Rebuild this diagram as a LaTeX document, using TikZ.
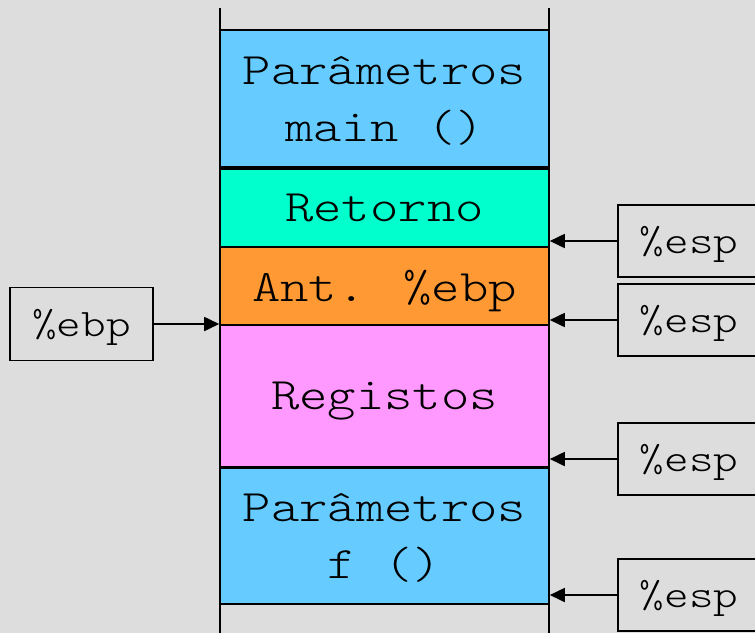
\documentclass[tikz,border=0pt]{standalone}
\usepackage{fontspec}
\newfontfamily\courfont{lmmonolt10-regular.otf}[FakeStretch=1.2]
\usetikzlibrary{arrows.meta}

\definecolor{bg}{HTML}{DDDDDD}
\definecolor{parblue}{HTML}{66CCFF}
\definecolor{retaqua}{HTML}{00FFCC}
\definecolor{ebporange}{HTML}{FF9933}
\definecolor{regpink}{HTML}{FF99FF}

\begin{document}
\begin{tikzpicture}[
  x=1pt, y=-1pt,
  s/.style={draw, line width=1.6pt, minimum width=329pt, inner sep=0pt, align=center,
    text depth=0pt, font=\courfont\fontsize{45}{57}\selectfont},
  r/.style={draw, line width=1.6pt, minimum width=142pt, minimum height=72pt, inner sep=0pt,
    text height=25pt, text depth=0pt, font=\courfont\fontsize{39}{47}\selectfont},
  arr/.style={-{Triangle[length=15pt,width=14pt]}, line width=1.8pt}]

\fill[bg] (0,0) rectangle (755,633);
\useasboundingbox (0,0) rectangle (755,633);

% stack walls
\draw[line width=1.6pt] (220,8) -- (220,633);
\draw[line width=1.6pt] (549,8) -- (549,633);

% stack frames
\node[s, fill=parblue, minimum height=137pt] (pmain) at (384.5,98.5) {Parâmetros\\main ()};
\node[s, fill=retaqua, minimum height=78pt] (ret) at (384.5,208) {Retorno};
\node[s, fill=ebporange, minimum height=78pt] (ant) at (384.5,286) {Ant. \%ebp};
\node[s, fill=regpink, minimum height=142pt] (reg) at (384.5,396) {Registos};
\node[s, fill=parblue, minimum height=136pt] (pf) at (384.5,536) {Parâmetros\\f ()};

% registers
\node[r, minimum width=143pt, minimum height=73pt] (ebp) at (81.5,324) {\%ebp};
\node[r] (esp1) at (689,241) {\%esp};
\node[r] (esp2) at (689,320) {\%esp};
\node[r] (esp3) at (689,459) {\%esp};
\node[r] (esp4) at (689,595) {\%esp};

\draw[arr] (ebp.east) -- (ebp.east -| ant.west);
\foreach \n in {esp1,esp2,esp3,esp4} \draw[arr] (\n.west) -- (\n.west -| ret.east);
\end{tikzpicture}
\end{document}
